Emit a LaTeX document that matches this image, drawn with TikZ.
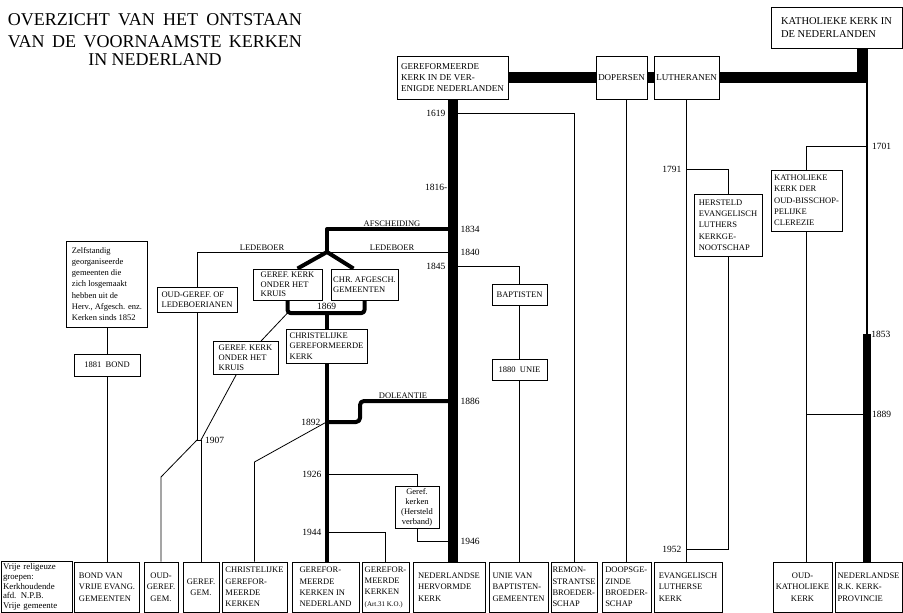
\documentclass[tikz,border=0pt]{standalone}
\usepackage{fontspec}
\setmainfont{Liberation Serif}
\usetikzlibrary{backgrounds}
\usetikzlibrary{calc}

\begin{document}
\begin{tikzpicture}[x=1pt,y=-1pt,
  box/.style={draw,line width=0.9pt,fill=white,inner sep=1.5pt,align=left,font=\fontsize{8.5}{11.3}\selectfont},
  onder/.style={box,minimum height=50pt,font=\fontsize{8.5}{11.3}\selectfont},
  titel/.style={inner sep=0pt,align=center,font=\fontsize{18}{22}\selectfont},
  jaar/.style={inner sep=0pt,font=\fontsize{9.5}{11}\selectfont},
  lijntekst/.style={inner sep=0.5pt,font=\fontsize{8.5}{10}\selectfont},
  dun/.style={line width=0.8pt},
  middel/.style={line width=4pt,line join=round},
  stam/.style={line width=10pt},
  balk/.style={line width=11pt}]
 \useasboundingbox (0,0) rectangle (903,613);

 \node[titel] (titel) at (155,40) {\makebox[294pt][s]{OVERZICHT VAN HET ONTSTAAN}\\
   \makebox[294pt][s]{VAN DE VOORNAAMSTE KERKEN}\\[-4pt]IN NEDERLAND};

 % bovenste rij
 \node[box,font=\fontsize{9}{11}\selectfont,minimum width=111pt,minimum height=43pt] (gkvn) at (452.5,77.5) {GEREFORMEERDE\\KERK IN DE VER-\\ENIGDE NEDERLANDEN};
 \node[box,font=\fontsize{9}{11}\selectfont,minimum width=51pt,minimum height=43pt] (dopers) at (621.5,77.5) {DOPERSEN};
 \node[box,font=\fontsize{9}{11}\selectfont,minimum width=65pt,minimum height=43pt] (luther) at (686.5,77.5) {LUTHERANEN};
 \node[box,font=\fontsize{10.5}{13}\selectfont,minimum width=131pt,minimum height=41pt] (rkk) at (836.5,27.5) {KATHOLIEKE KERK IN\\DE NEDERLANDEN};

 % middelste kerken
 \node[box,minimum width=81pt,minimum height=86pt] (zelf) at (107,284) {Zelfstandig\\georganiseerde\\gemeenten die\\zich losgemaakt\\hebben uit de\\Herv., Afgesch. enz.\\Kerken sinds 1852};
 \node[box,minimum width=66pt,minimum height=22pt] (bond) at (107,365) {1881\ \ BOND};
 \node[box,minimum width=80pt,minimum height=25pt,font=\fontsize{8.5}{10.5}\selectfont] (ogl) at (197,299.5) {OUD-GEREF. OF\\LEDEBOERIANEN};
 \node[box,minimum width=69pt,minimum height=31pt,inner sep=1pt,font=\fontsize{8.5}{9.5}\selectfont] (gkok1) at (287.5,284.5) {GEREF. KERK\\ONDER HET\\KRUIS};
 \node[box,minimum width=67pt,minimum height=31pt,font=\fontsize{8.5}{10.5}\selectfont] (chr) at (364.5,284.5) {CHR. AFGESCH.\\GEMEENTEN};
 \node[box,minimum width=81pt,minimum height=34pt,font=\fontsize{8.5}{10.5}\selectfont] (cgk) at (326.5,346) {CHRISTELIJKE\\GEREFORMEERDE\\KERK};
 \node[box,minimum width=65pt,minimum height=33pt,inner sep=1pt,font=\fontsize{8.5}{10}\selectfont] (gkok2) at (245.5,357.5) {GEREF. KERK\\ONDER HET\\KRUIS};
 \node[box,minimum width=55pt,minimum height=21pt] (bapt) at (519.5,294.5) {BAPTISTEN};
 \node[box,minimum width=55pt,minimum height=21pt] (unie) at (519.5,369.5) {1880\ \ UNIE};
 \node[box,minimum width=68pt,minimum height=62pt] (hersteld) at (728,225) {HERSTELD\\EVANGELISCH\\LUTHERS\\KERKGE-\\NOOTSCHAP};
 \node[box,minimum width=71pt,minimum height=61pt] (clerezie) at (806.5,200.5) {KATHOLIEKE\\KERK DER\\OUD-BISSCHOP-\\PELIJKE\\CLEREZIE};
 \node[box,align=center,minimum width=44pt,minimum height=42pt,font=\fontsize{8.5}{10}\selectfont] (hv) at (417,507) {Geref.\\kerken\\(Hersteld\\verband)};

 % onderste rij
 \node[onder,font=\fontsize{8.8}{9.6}\selectfont,text width=67pt,inner sep=2pt] (vrg) at (36.5,587) {Vrije religeuze\\groepen:\\Kerkhoudende\\afd. N.P.B.\\Vrije gemeente};
 \node[onder,minimum width=65pt] (bvg) at (107,587) {BOND VAN\\VRIJE EVANG.\\GEMEENTEN};
 \node[onder,align=center,minimum width=34pt] (ogg) at (161,587) {OUD-\\GEREF.\\GEM.};
 \node[onder,align=center,minimum width=36pt] (gg) at (201,587) {GEREF.\\GEM.};
 \node[onder,minimum width=65pt] (cgkn) at (254.5,587) {CHRISTELIJKE\\GEREFOR-\\MEERDE\\KERKEN};
 \node[onder,minimum width=67pt] (gkn) at (325.5,587) {GEREFOR-\\MEERDE\\KERKEN IN\\NEDERLAND};
 \node[onder,minimum width=47pt] (art31) at (385.5,587) {GEREFOR-\\MEERDE\\KERKEN\\{\fontsize{7}{9}\selectfont(Art.31 K.O.)}};
 \node[onder,minimum width=72pt] (nhk) at (449,587) {NEDERLANDSE\\HERVORMDE\\KERK};
 \node[onder,minimum width=59pt] (ubg) at (518.5,587) {UNIE VAN\\BAPTISTEN-\\GEMEENTEN};
 \node[onder,minimum width=46pt,inner sep=1pt] (remon) at (574,587) {REMON-\\STRANTSE\\BROEDER-\\SCHAP};
 \node[onder,minimum width=49pt] (doops) at (626.5,587) {DOOPSGE-\\ZINDE\\BROEDER-\\SCHAP};
 \node[onder,minimum width=68pt] (evl) at (688,587) {EVANGELISCH\\LUTHERSE\\KERK};
 \node[onder,align=center,minimum width=59pt] (okk) at (802.5,587) {OUD-\\KATHOLIEKE\\KERK};
 \node[onder,minimum width=67pt] (rkprov) at (868.5,587) {NEDERLANDSE\\R.K. KERK-\\PROVINCIE};

 % punten op de lijnen
 \coordinate (j1619) at (452.5,113);
 \coordinate (j1816) at (452.5,187);
 \coordinate (j1834) at (452.5,229);
 \coordinate (j1840) at (452.5,252);
 \coordinate (j1845) at (452.5,266);
 \coordinate (j1886) at (452.5,401);
 \coordinate (j1946) at (452.5,541);
 \coordinate (afsch) at (327,229);
 \coordinate (vork) at (327,252);
 \coordinate (ledhoek) at (197,252);
 \coordinate (m1869) at (326.5,313);
 \coordinate (dol) at (360,401);
 \coordinate (c1892) at (326.5,422);
 \coordinate (c1926) at (326.5,474);
 \coordinate (c1944) at (326.5,532);
 \coordinate (k1892) at (254.5,462);
 \coordinate (l1907) at (197,440);
 \coordinate (g1907) at (201,440);
 \coordinate (k1907) at (161,477);
 \coordinate (l1791) at (686.5,169);
 \coordinate (l1952) at (686.5,549);
 \coordinate (rkhoek) at (862.5,77.5);
 \coordinate (r0) at (867,83);
 \coordinate (r1701) at (867,146);
 \coordinate (r1853) at (867,334);
 \coordinate (r1889) at (867,414);

 \begin{scope}[on background layer]
  \draw[stam] (gkvn.south) -- (gkvn.south |- nhk.north);
  \draw[balk] (gkvn.east) -- (rkhoek) -- (rkhoek |- rkk.south);
  \draw[line width=2.5pt] (r0) -- (r1853);
  \draw[line width=8pt] (r1853) -- (r1853 |- rkprov.north);

  \draw[dun] (j1619) -| (remon.north);
  \draw[dun] (j1845) -| (bapt.north);
  \draw[dun] (bapt.south) -- (unie.north);
  \draw[dun] (unie.south) -- (unie.south |- ubg.north);
  \draw[dun] (dopers.south -| doops.north) -- (doops.north);
  \draw[dun] (luther.south) -- (luther.south |- evl.north);
  \draw[dun] (l1791) -| (hersteld.north);
  \draw[dun] (hersteld.south) |- (l1952);
  \draw[dun] (r1701) -| (clerezie.north);
  \draw[dun] (clerezie.south) -- (clerezie.south |- okk.north);
  \draw[dun] (r1889) -- (r1889 -| clerezie.south);

  \draw[middel] (j1834) -- (afsch) -- (vork);
  \draw[middel] ($(gkok1.north)+(10,0)$) -- (vork) -- ($(chr.north)-(11,0)$);
  \draw[dun] (ledhoek) -- (j1840);
  \draw[middel,rounded corners=3pt] (gkok1.south) |- (m1869) -| (chr.south);
  \draw[middel] (m1869) -- (cgk.north);
  \draw[middel] (cgk.south) -- (cgk.south |- gkn.north);
  \draw[middel,rounded corners=4pt] (j1886) -- (dol) -- (dol |- c1892) -- (c1892);

  \draw[dun] (zelf.south) -- (bond.north);
  \draw[dun] (bond.south) -- (bvg.north);
  \draw[dun] (ledhoek) -- (ogl.north);
  \draw[dun] (ogl.south) -- (l1907) -- (g1907);
  \draw[dun] (l1907) -- (k1907) -- (ogg.north);
  \draw[dun] (gkok1.south |- m1869) -- (gkok2.center) -- (g1907);
  \draw[dun] (g1907) -- (gg.north);
  \draw[dun] (c1892) -- (k1892) -- (cgkn.north);
  \draw[dun] (c1926) -| (hv.north);
  \draw[dun] (hv.south) |- (j1946);
  \draw[dun] (c1944) -| (art31.north);
 \end{scope}

 % teksten bij de lijnen
 \node[lijntekst,above=1.5pt] (afschtekst) at (392,229) {AFSCHEIDING};
 \node[lijntekst,above=1pt] (ledtekst1) at (262,252) {LEDEBOER};
 \node[lijntekst,above=1pt] (ledtekst2) at (392,252) {LEDEBOER};
 \node[lijntekst,above=2pt] (doltekst) at (403,401) {DOLEANTIE};

 % jaartallen
 \node[jaar,left=7pt] (t1619) at (j1619) {1619};
 \node[jaar,left=5pt] (t1816) at (j1816) {1816-};
 \node[jaar,right=8pt] (t1834) at (j1834) {1834};
 \node[jaar,right=8pt] (t1840) at (j1840) {1840};
 \node[jaar,left=7pt] (t1845) at (j1845) {1845};
 \node[jaar,right=8pt] (t1886) at (j1886) {1886};
 \node[jaar,right=8pt] (t1946) at (j1946) {1946};
 \node[jaar,above=3pt] (t1869) at (m1869) {1869};
 \node[jaar,left=6pt] (t1892) at (c1892) {1892};
 \node[jaar,left=5pt] (t1926) at (c1926) {1926};
 \node[jaar,left=5pt] (t1944) at (c1944) {1944};
 \node[jaar,right=4pt] (t1907) at (g1907) {1907};
 \node[jaar,left=5pt] (t1791) at (l1791) {1791};
 \node[jaar,left=5pt] (t1952) at (l1952) {1952};
 \node[jaar,right=5pt] (t1701) at (r1701) {1701};
 \node[jaar,right=1pt] (t1853) at (r1853) {-1853};
 \node[jaar,right=5pt] (t1889) at (r1889) {1889};
\end{tikzpicture}
\end{document}
